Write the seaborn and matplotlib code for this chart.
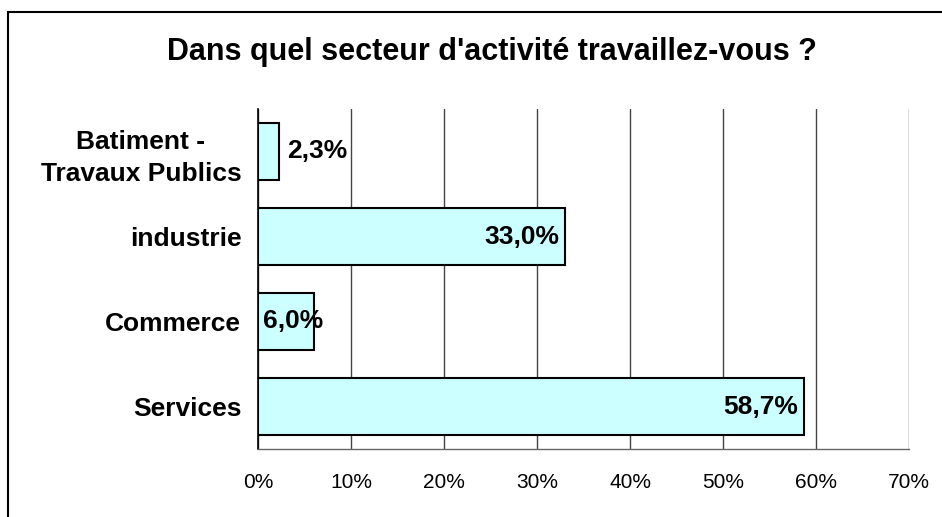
import matplotlib
matplotlib.use("Agg")
import matplotlib.pyplot as plt
import seaborn as sns
import pandas as pd
from matplotlib.patches import Rectangle
from matplotlib.ticker import FixedLocator

categories = ["Batiment -\nTravaux Publics", "industrie", "Commerce", "Services"]
values = [2.3, 33.0, 6.0, 58.7]
value_labels = ["2,3%", "33,0%", "6,0%", "58,7%"]
xticks = [0, 10, 20, 30, 40, 50, 60, 70]
xtick_labels = ["0%", "10%", "20%", "30%", "40%", "50%", "60%", "70%"]
title = "Dans quel secteur d'activité travaillez-vous ?"

df = pd.DataFrame({"cat": categories, "val": values})

sns.set_style("white")
plt.rcParams["font.family"] = ["Liberation Sans", "DejaVu Sans"]
plt.rcParams["text.color"] = "black"
plt.rcParams["xtick.color"] = "black"
plt.rcParams["ytick.color"] = "black"
plt.rcParams["xtick.labelcolor"] = "black"
plt.rcParams["ytick.labelcolor"] = "black"

fig = plt.figure(figsize=(9.42, 5.17), dpi=100)
ax = fig.add_axes([258/942, 1-449/517, (909-258)/942, (449-109)/517])

sns.barplot(data=df, x="val", y="cat", orient="h", color="#CCFFFF",
            edgecolor="black", linewidth=1.5, width=0.67, saturation=1, ax=ax)

ax.set_xlim(0, 70)
ax.set_ylim(3.5, -0.5)
ax.set_xticks(xticks)
ax.set_xticklabels(xtick_labels, fontsize=15, color="black")
ax.set_xlabel("")
ax.set_ylabel("")
ax.xaxis.grid(True, color="#444444", linewidth=1)
ax.yaxis.grid(False)
ax.set_axisbelow(True)

ax.set_yticks(range(len(categories)))
ax.set_yticklabels(categories, fontsize=19, fontweight="bold", color="black",
                   multialignment="center", linespacing=1.4)
ax.tick_params(axis="y", which="major", length=0, pad=12)
ax.yaxis.set_minor_locator(FixedLocator([-0.5, 0.5, 1.5, 2.5, 3.5]))
ax.tick_params(axis="y", which="minor", length=8, width=1, color="black", direction="out")
ax.tick_params(axis="x", which="major", length=6, width=1, color="#222222",
               direction="out", pad=11)

for side in ["top", "right"]:
    ax.spines[side].set_visible(False)
ax.spines["left"].set_color("black")
ax.spines["left"].set_linewidth(1.2)
ax.spines["bottom"].set_color("#666666")
ax.spines["bottom"].set_linewidth(1)

for i, (v, lab) in enumerate(zip(values, value_labels)):
    if v >= 10:
        ax.annotate(lab, (v, i), xytext=(-6, 0), textcoords="offset pixels",
                    ha="right", va="center", fontsize=19, fontweight="bold", color="black")
    elif v >= 5:
        ax.annotate(lab, (0, i), xytext=(5, 0), textcoords="offset pixels",
                    ha="left", va="center", fontsize=19, fontweight="bold", color="black")
    else:
        ax.annotate(lab, (v, i), xytext=(8, 0), textcoords="offset pixels",
                    ha="left", va="center", fontsize=19, fontweight="bold", color="black")

fig.text(492/942, 1-52/517, title, ha="center", va="center",
         fontsize=22, fontweight="bold", color="black")

fig.patches.append(Rectangle((8/942, -0.05), 1.2, 1-12/517+0.05,
                             transform=fig.transFigure, fill=False,
                             edgecolor="black", linewidth=1.5))

fig.savefig("out.png", dpi=100)
